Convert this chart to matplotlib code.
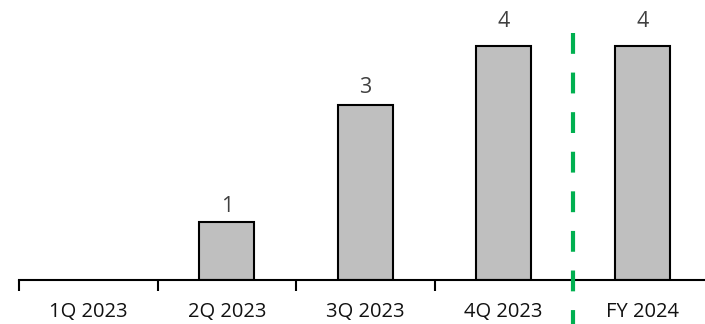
import matplotlib
matplotlib.use('Agg')
import matplotlib.pyplot as plt
import numpy as np

categories = ['1Q 2023', '2Q 2023', '3Q 2023', '4Q 2023', 'FY 2024']
values = [0, 1, 3, 4, 4]

plt.rcParams['font.family'] = ['Open Sans', 'DejaVu Sans']

fig = plt.figure(figsize=(7.05, 3.24), dpi=100)
# axes spans a bit past the right edge, like the original
ax = fig.add_axes([19/705, 44/324, 692.5/705, 280/324])

x = np.arange(len(categories))
ax.bar(x[1:], values[1:], width=0.40, color='#BFBFBF', edgecolor='black', linewidth=1.5, zorder=2)

# gap (points) between bar top and label baseline, as in the original
label_gap = [7, 7, 8.6, 13.7, 13.7]
for xi, v, g in zip(x, values, label_gap):
    if v > 0:
        ax.annotate(str(v), (xi, v), xytext=(0, g), textcoords='offset points',
                    ha='center', va='baseline', fontsize=15.5, color='#404040')

ax.set_xlim(-0.5, len(categories) - 0.5)
ax.set_ylim(0, 280/58.5)

for s in ['top', 'right', 'left']:
    ax.spines[s].set_visible(False)
ax.spines['bottom'].set_linewidth(1.5)
ax.set_yticks([])

ax.set_xticks(x)
ax.set_xticklabels(categories, fontsize=14.5, color='#111111')
ax.tick_params(axis='x', which='major', length=0, pad=16)
ax.set_xticks(np.arange(len(categories)) - 0.5, minor=True)
ax.tick_params(axis='x', which='minor', length=8, width=1.5, direction='out')

# separator between quarters and full year
ax.plot([3.5, 3.5], [4.22, -0.76], color='#00B050', linewidth=3, linestyle=(0, (5, 4.5)),
        clip_on=False, zorder=3)

fig.savefig('out.png', dpi=100)
